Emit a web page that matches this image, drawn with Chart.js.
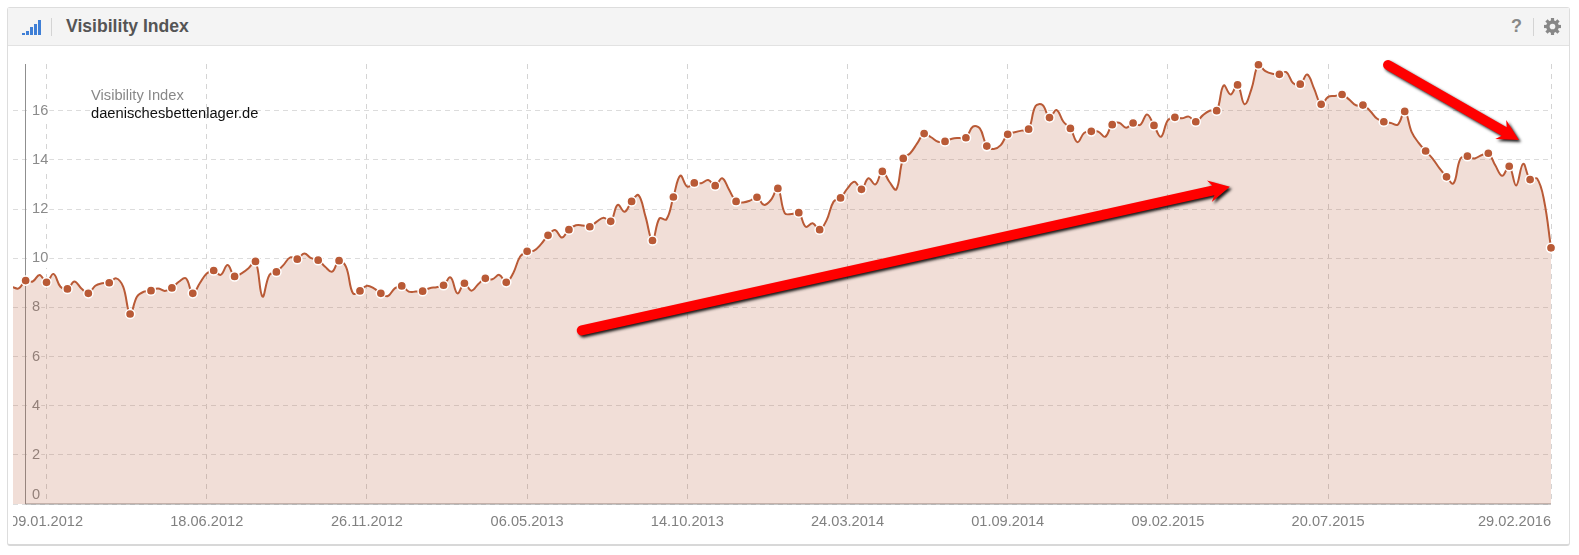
<!DOCTYPE html>
<html lang="de">
<head>
  <meta charset="UTF-8" />
  <title>Visibility Index</title>
  <script src="https://cdn.jsdelivr.net/npm/chart.js"></script>
  <style>
    html, body { margin: 0; padding: 0; background: #fff; overflow: hidden; }
    body { width: 1579px; height: 555px; position: relative; font-family: "Liberation Sans", Arial, sans-serif; }
    .panel {
      position: absolute; left: 7px; top: 7px; width: 1561px; height: 536px;
      border: 1px solid #ddd; border-bottom: 2px solid #d8d8d8; border-radius: 3px; box-sizing: content-box;
    }
    .head {
      position: absolute; left: 0; top: 0; right: 0; height: 37px;
      background: #f4f4f4; border-bottom: 1px solid #e2e2e2;
    }
    .title { position: absolute; left: 58px; top: 8px; font-weight: bold; font-size: 17.6px; line-height: 20px; color: #555; }
    .sep { position: absolute; top: 10px; width: 1px; height: 18px; background: #d4d4d4; }
    .bars span { position: absolute; bottom: 2px; width: 3px; background: #3f7fd6; }
    .help { position: absolute; left: 1503px; top: 8px; font-weight: bold; font-size: 18px; line-height: 20px; color: #888; }
    .gear { position: absolute; left: 1536px; top: 10px; width: 17px; height: 17px; }
    .legend { position: absolute; left: 91px; top: 86px; font-size: 14.7px; line-height: 18px; }
    .legend .a { color: #888; }
    .legend .b { color: #111; }
    /* the plot is cut at x=13, this is what clips the first date label */
    #recorte { position: absolute; left: 13px; top: 54px; width: 1562px; height: 480px; overflow: hidden; }
    #wrap { position: absolute; left: -6px; top: 0; width: 1568px; height: 480px; }
  </style>
</head>
<body>
  <div class="panel">
    <div class="head">
      <div class="bars" style="position:absolute;left:14px;top:0;width:20px;height:29px">
        <span style="left:0;height:2px"></span>
        <span style="left:4px;height:4px"></span>
        <span style="left:8px;height:8px"></span>
        <span style="left:12px;height:11px"></span>
        <span style="left:16px;height:15px"></span>
      </div>
      <div class="sep" style="left:43px"></div>
      <div class="title">Visibility Index</div>
      <div class="help">?</div>
      <div class="sep" style="left:1525px"></div>
      <svg class="gear" viewBox="0 0 24 24">
        <circle cx="12" cy="12" r="6.5" fill="none" stroke="#888" stroke-width="5"/>
        <g stroke="#888" stroke-width="4.5">
          <line x1="12" y1="0" x2="12" y2="24"/>
          <line x1="0" y1="12" x2="24" y2="12"/>
          <line x1="3.5" y1="3.5" x2="20.5" y2="20.5"/>
          <line x1="20.5" y1="3.5" x2="3.5" y2="20.5"/>
        </g>
        <circle cx="12" cy="12" r="4" fill="#f4f4f4"/>
      </svg>
    </div>
  </div>
  <div id="recorte"><div id="wrap"><canvas id="grafico"></canvas></div></div>
  <div class="legend">
    <div class="a">Visibility Index</div>
    <div class="b">daenischesbettenlager.de</div>
  </div>

  <script>
    // weekly values, first one is 5 weeks before 09.01.2012
    const firstWeek = -5;
    const valores = [
      8.84, 8.77, 9.09, 9.05, 9.32, 9.02, 9.36, 8.84, 8.75, 9.05, 8.77, 8.57, 8.88, 8.98, 9.00, 9.18, 8.84, 7.73, 8.44, 8.64,
      8.68, 8.77, 8.67, 8.79, 9.04, 9.18, 8.57, 8.98, 9.38, 9.50, 9.32, 9.72, 9.26, 9.38, 9.59, 9.87, 8.44, 9.32, 9.44, 9.72,
      10.03, 9.96, 10.19, 10.00, 9.92, 9.65, 9.45, 9.90, 9.65, 8.57, 8.67, 8.88, 8.77, 8.57, 8.46, 8.77, 8.87, 8.64, 8.64, 8.66,
      8.78, 8.82, 8.90, 9.22, 8.57, 8.98, 8.68, 8.95, 9.18, 9.14, 9.32, 9.02, 9.39, 10.07, 10.28, 10.31, 10.57, 10.93, 11.15, 10.84,
      11.16, 11.34, 11.33, 11.28, 11.49, 11.65, 11.50, 12.17, 11.89, 12.31, 12.56, 11.69, 10.72, 11.62, 11.58, 12.49, 13.36, 12.91, 13.06, 13.05,
      13.18, 12.95, 13.25, 12.78, 12.31, 12.27, 12.34, 12.48, 12.17, 12.37, 12.84, 11.83, 11.80, 11.85, 11.28, 11.42, 11.16, 11.55, 12.30, 12.45,
      12.84, 13.11, 12.80, 13.25, 13.00, 13.53, 13.11, 12.80, 14.06, 14.27, 14.67, 15.07, 14.92, 14.74, 14.75, 14.86, 14.89, 14.90, 15.35, 15.28,
      14.56, 14.44, 14.60, 15.04, 15.12, 15.19, 15.25, 16.19, 16.23, 15.72, 16.03, 15.55, 15.28, 14.72, 15.10, 15.16, 15.15, 14.94, 15.43, 15.51,
      15.31, 15.50, 15.42, 15.85, 15.40, 14.94, 15.62, 15.73, 15.69, 15.76, 15.55, 15.81, 16.00, 16.00, 17.03, 16.66, 17.05, 16.26, 16.89, 17.87,
      17.61, 17.50, 17.48, 17.57, 17.12, 17.08, 17.47, 16.89, 16.26, 16.56, 16.60, 16.66, 16.46, 16.22, 16.23, 16.00, 15.68, 15.55, 15.50, 15.43,
      15.97, 15.13, 14.69, 14.36, 14.05, 13.65, 13.31, 13.04, 14.05, 14.15, 14.06, 14.19, 14.27, 13.78, 13.35, 13.74, 12.96, 13.84, 13.20, 13.24,
      12.36, 10.42
    ];
    const semanasTicks = [0, 23, 46, 69, 92, 115, 138, 161, 184, 216];
    const etiquetasTicks = ["09.01.2012", "18.06.2012", "26.11.2012", "06.05.2013", "14.10.2013", "24.03.2014", "01.09.2014", "09.02.2015", "20.07.2015", "29.02.2016"];

    // red arrows from the screenshot, [week, value]
    const flechaSubida = [[76.84, 7.06], [169.9, 12.91]];
    const flechaBajada = [[192.6, 17.86], [211.4, 14.81]];
    const semanaEjeY = -3.1;

    const lineColor = "#b95a36";
    const fuenteEjes = { family: "'Liberation Sans', Arial, sans-serif", size: 14.6 };

    const ejes = {
      id: "ejes",
      beforeDatasetsDraw(chart) {
        const { ctx, chartArea, scales } = chart;
        const x0 = Math.round(scales.x.getPixelForValue(semanaEjeY)) + 0.5;
        ctx.save();
        ctx.strokeStyle = "#8f8f8f";
        ctx.lineWidth = 1;
        ctx.beginPath();
        ctx.moveTo(x0, chartArea.top);
        ctx.lineTo(x0, chartArea.bottom);
        ctx.lineTo(chartArea.right, chartArea.bottom);
        ctx.stroke();
        ctx.restore();
      }
    };

    function dibujarFlecha(chart, flecha) {
      const { ctx, scales } = chart;
      const x1 = scales.x.getPixelForValue(flecha[0][0]);
      const y1 = scales.y.getPixelForValue(flecha[0][1]);
      const x2 = scales.x.getPixelForValue(flecha[1][0]);
      const y2 = scales.y.getPixelForValue(flecha[1][1]);
      const ang = Math.atan2(y2 - y1, x2 - x1);
      const largo = Math.hypot(x2 - x1, y2 - y1);
      ctx.save();
      ctx.shadowColor = "rgba(0,0,0,0.9)";
      ctx.shadowBlur = 3;
      ctx.shadowOffsetX = 2;
      ctx.shadowOffsetY = 2;
      ctx.translate(x1, y1);
      ctx.rotate(ang);
      ctx.fillStyle = "#ff0000";
      ctx.beginPath();
      ctx.arc(0, 0, 5, Math.PI / 2, -Math.PI / 2);
      ctx.lineTo(largo - 17, -5);
      ctx.lineTo(largo - 21, -11);
      ctx.lineTo(largo, 0);
      ctx.lineTo(largo - 21, 11);
      ctx.lineTo(largo - 17, 5);
      ctx.closePath();
      ctx.fill();
      ctx.restore();
    }

    const flechas = {
      id: "flechas",
      afterDatasetsDraw(chart) {
        dibujarFlecha(chart, flechaSubida);
        dibujarFlecha(chart, flechaBajada);
      }
    };

    new Chart(document.getElementById("grafico"), {
      type: "line",
      plugins: [ejes, flechas],
      data: {
        datasets: [{
          label: "daenischesbettenlager.de",
          data: valores.map((v, i) => ({ x: i + firstWeek, y: v })),
          borderColor: lineColor,
          borderWidth: 2,
          backgroundColor: "rgba(185,90,54,0.2)",
          fill: "origin",
          tension: 0.4,
          clip: false,
          pointBackgroundColor: lineColor,
          pointBorderColor: "#fff",
          pointBorderWidth: 1.5,
          pointRadius: ctx => ((ctx.dataIndex + firstWeek) % 3 === 0 ? 4.6 : 0)
        }]
      },
      options: {
        responsive: true,
        maintainAspectRatio: false,
        animation: false,
        layout: { padding: { top: 10, right: 24, bottom: 0, left: 0 } },
        plugins: { legend: { display: false }, tooltip: { enabled: false } },
        scales: {
          x: {
            type: "linear",
            min: -4.8,
            max: 216,
            border: { display: false, dash: [5, 5] },
            grid: { color: "#d4d4d4", drawTicks: false },
            afterFit(axis) {
              axis.paddingLeft = 0;
              axis.paddingRight = 0;
              axis.height = 30;
            },
            afterBuildTicks(axis) {
              axis.ticks = semanasTicks.map(w => ({ value: w }));
            },
            ticks: {
              autoSkip: false,
              maxRotation: 0,
              padding: 9,
              color: "#808080",
              font: fuenteEjes,
              callback(value) {
                const txt = etiquetasTicks[semanasTicks.indexOf(value)];
                // last label sits left of its grid line, inside the plot
                return value === 216 ? txt + "\u00a0".repeat(18) : txt;
              }
            }
          },
          y: {
            min: 0,
            max: 17.9,
            border: { display: false, dash: [5, 4] },
            grid: { color: "#dcdcdc", drawTicks: false },
            afterFit(axis) {
              axis.width = 0;
              axis.paddingTop = 0;
              axis.paddingBottom = 0;
            },
            afterBuildTicks(axis) {
              axis.ticks = axis.ticks.filter(t => t.value % 2 === 0);
            },
            ticks: {
              mirror: true,
              padding: 19,
              stepSize: 2,
              color: "#8a8a8a",
              font: fuenteEjes,
              showLabelBackdrop: ctx => ctx.tick.value !== 0,
              backdropColor: "#fff",
              backdropPadding: 1,
              // the 0 sits a bit above the axis line
              callback: value => (value === 0 ? ["0", ""] : String(value))
            }
          }
        }
      }
    });
  </script>
</body>
</html>
